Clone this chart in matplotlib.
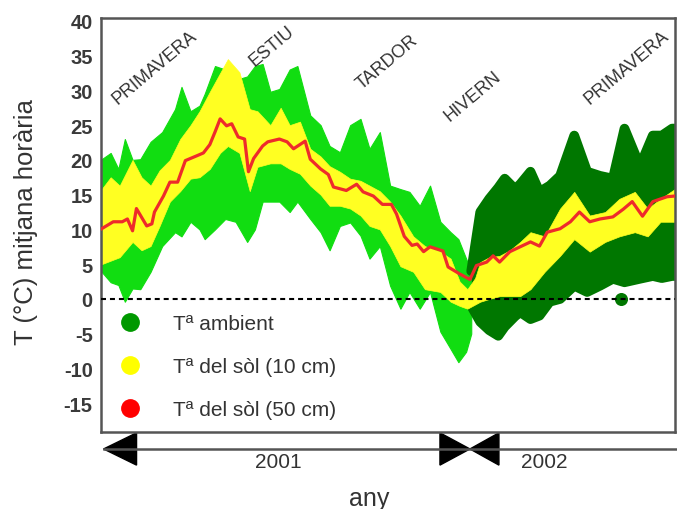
import matplotlib.pyplot as plt
from matplotlib.patches import Polygon
from matplotlib.lines import Line2D
from matplotlib.transforms import blended_transform_factory

plt.rcParams['font.family'] = ['Liberation Sans', 'DejaVu Sans']
plt.rcParams['axes.unicode_minus'] = False

# dies comptats des de l'1 de gener de 2001
# T ambient 2001 (envolupant min/max de les mitjanes horàries)
amb01_day = [79, 86, 92, 97, 103, 109, 117, 126, 136, 141, 148, 155, 159, 167, 175,
             183, 192, 198, 204, 210, 217, 225, 231, 241, 249, 256, 264, 272, 280,
             287, 295, 303, 311, 318, 326, 334, 342, 350, 356, 362, 366]
amb01_hi = [20.1, 21.0, 18.7, 23.0, 20.0, 20.1, 22.6, 24.0, 27.3, 30.5, 27.0, 27.8, 29.5,
            33.5, 33.0, 31.5, 32.0, 33.5, 33.8, 29.8, 30.2, 33.0, 33.5, 26.4, 25.0, 22.0,
            21.1, 25.0, 25.9, 21.6, 24.0, 16.3, 15.8, 15.4, 13.4, 16.3, 11.1, 9.6, 8.6,
            5.8, 4.0]
amb01_lo = [3.9, 2.4, 2.0, -0.4, 1.5, 1.4, 3.9, 7.6, 9.6, 9.0, 11.1, 10.0, 8.6, 10.0,
            11.5, 11.1, 8.2, 10.0, 14.0, 14.0, 14.0, 12.5, 14.0, 11.5, 9.6, 7.0, 10.5,
            11.0, 9.1, 5.8, 7.6, 1.9, -1.4, 1.0, -1.4, 1.0, -4.7, -7.2, -9.1, -7.6, -5.0]

# T ambient 2002
amb02_day = [366, 373, 380, 387, 392, 400, 404, 412, 419, 427, 435, 446, 456, 466,
             476, 485, 497, 507, 514, 522, 524]
amb02_hi = [4.0, 12.5, 14.4, 16.0, 17.3, 15.8, 16.5, 18.3, 15.4, 16.3, 17.7, 23.5,
            18.3, 17.7, 17.3, 24.5, 19.1, 23.5, 23.5, 24.5, 24.5]
amb02_lo = [-1.0, -3.3, -4.5, -5.3, -4.0, -2.5, -1.9, -2.9, -2.4, -0.4, 0.0, 1.9,
            1.0, 1.9, 2.9, 2.4, 2.9, 3.3, 3.0, 3.3, 3.3]
outlier_day = [482]
outlier_temp = [0.0]

# T del sòl a 10 cm
soil10_day = [79, 86, 93, 103, 110, 117, 124, 132, 140, 148, 155, 163, 171, 177, 186,
              194, 200, 210, 218, 225, 233, 241, 249, 256, 264, 272, 280, 287, 295,
              303, 311, 321, 330, 342, 350, 357, 363, 369, 373, 380, 388, 396, 404,
              412, 423, 435, 446, 458, 470, 481, 493, 503, 513, 524]
soil10_hi = [15.8, 17.5, 16.3, 20.0, 17.5, 16.3, 18.5, 20.0, 23.0, 25.0, 27.0, 29.8,
             32.5, 34.5, 32.6, 27.3, 27.0, 25.0, 27.5, 25.0, 25.5, 21.6, 20.5, 19.1,
             18.3, 17.3, 17.0, 16.3, 15.5, 14.0, 12.0, 9.0, 7.6, 6.8, 5.8, 2.5, 1.4,
             3.0, 5.3, 6.0, 6.2, 7.0, 8.2, 9.6, 9.0, 13.0, 15.4, 12.0, 12.5, 14.4,
             15.4, 13.0, 14.4, 15.8]
soil10_lo = [5.0, 5.5, 6.0, 8.2, 7.0, 7.6, 10.5, 14.0, 15.5, 17.3, 17.5, 18.7, 21.0,
             22.0, 21.0, 15.5, 19.0, 19.5, 19.5, 18.7, 18.0, 16.3, 15.0, 13.4, 13.4,
             13.0, 12.0, 10.5, 10.0, 7.6, 4.7, 3.9, 1.4, 1.0, -0.4, -1.0, -1.4, -0.8,
             -0.4, 0.0, 0.4, 0.4, 0.4, 1.4, 3.9, 6.2, 8.6, 6.8, 8.2, 9.0, 9.6, 9.0,
             11.1, 11.1]

# T del sòl a 50 cm
soil50_day = [79, 88, 95, 99, 103, 106, 114, 118, 120, 127, 132, 138, 144, 153, 158,
              163, 167, 171, 176, 180, 185, 190, 193, 197, 204, 208, 217, 223, 228,
              237, 241, 249, 255, 259, 269, 277, 282, 290, 297, 304, 308, 314, 320,
              324, 329, 334, 339, 344, 348, 357, 365, 370, 378, 383, 388, 396, 412,
              419, 425, 435, 443, 450, 458, 466, 476, 484, 491, 499, 507, 518, 524]
soil50 = [10.1, 11.1, 11.1, 11.5, 9.8, 13.0, 10.5, 10.8, 12.5, 14.8, 16.8, 16.8, 19.9,
          20.6, 21.0, 22.2, 24.0, 25.9, 24.9, 25.2, 23.3, 23.0, 18.3, 20.2, 22.0, 22.6,
          23.0, 22.6, 21.6, 22.7, 20.1, 18.7, 17.9, 16.1, 15.6, 16.5, 15.4, 14.8, 13.6,
          13.6, 12.2, 9.0, 7.7, 7.9, 6.8, 7.5, 7.2, 6.9, 4.6, 3.6, 2.8, 4.8, 5.3, 6.2,
          5.3, 6.8, 8.2, 7.6, 9.6, 10.1, 11.1, 12.5, 11.1, 11.5, 11.8, 12.9, 14.0,
          11.9, 14.0, 14.7, 14.8]

seasons = ['PRIMAVERA', 'ESTIU', 'TARDOR', 'HIVERN', 'PRIMAVERA']
season_day = [120, 211, 301, 367, 487]
season_temp = [33.4, 36.4, 34.2, 29.2, 33.4]

years = ['2001', '2002']
year_day = [216, 423]
new_year_day = 365

fig = plt.figure(figsize=(6.77, 5.10), dpi=100)
ax = fig.add_axes([0.1492, 0.151, 0.8478, 0.812])

# ambient: verd clar el 2001, verd fosc (punts grossos) el 2002
ax.fill_between(amb01_day, amb01_lo, amb01_hi, color='#11dd11', lw=0.8, zorder=1)
ax.fill_between(amb02_day, amb02_lo, amb02_hi, color='#007700', lw=0, zorder=1)
for edge in (amb02_hi, amb02_lo):
    ax.plot(amb02_day, edge, color='#007700', lw=7, solid_joinstyle='round',
            solid_capstyle='round', zorder=1)
ax.scatter(outlier_day, outlier_temp, s=70, color='#007700', zorder=1)

ax.fill_between(soil10_day, soil10_lo, soil10_hi, color='#ffff22', lw=0.5, zorder=2)
ax.plot(soil50_day, soil50, color='#ee2b2b', lw=2.3, zorder=3)

ax.axhline(0, color='black', lw=1.5, ls=(0, (2.4, 1.9)), zorder=4)

ax.set_xlim(78.5, 524.2)
ax.set_ylim(-19.14, 40.43)
ax.set_xticks([])
ax.set_yticks(range(-15, 45, 5))
ax.tick_params(axis='y', length=0, pad=6, labelsize=14.5, labelcolor='#3a3a3a')
for lab in ax.get_yticklabels():
    lab.set_fontweight('bold')
for s in ax.spines.values():
    s.set_color('#555555')
    s.set_linewidth(1.8)

ax.text(-0.131, 0.51, 'T (°C) mitjana horària', transform=ax.transAxes, rotation=90,
        ha='center', va='center', fontsize=18.5, color='#333333')

for name, d, t in zip(seasons, season_day, season_temp):
    ax.text(d, t, name, rotation=40, ha='center', va='center', fontsize=13,
            color='#333333', zorder=5)

handles = [
    Line2D([], [], ls='none', marker='o', ms=12.5, mfc='#009900', mec='#009900',
           label='Tª ambient'),
    Line2D([], [], ls='none', marker='o', ms=12.5, mfc='#ffff00', mec='#ffff00',
           label='Tª del sòl (10 cm)'),
    Line2D([], [], ls='none', marker='o', ms=12.5, mfc='#ff0000', mec='#ff0000',
           label='Tª del sòl (50 cm)'),
]
leg = ax.legend(handles=handles, loc='upper left', bbox_to_anchor=(0.018, 0.305),
                borderaxespad=0, frameon=False, fontsize=15, labelspacing=1.15,
                handlelength=1.0, handletextpad=1.57)
for t in leg.get_texts():
    t.set_color('#333333')

# eix del temps sota el gràfic
tr = blended_transform_factory(ax.transData, ax.transAxes)
y0 = -0.041
h = 0.039
x_start = ax.get_xlim()[0] + 2
ax.plot([x_start, 526], [y0, y0], color='#555555', lw=1.8, transform=tr, clip_on=False)
tris = [
    [(x_start, y0), (x_start + 25.6, y0 + h), (x_start + 25.6, y0 - h)],
    [(new_year_day, y0), (new_year_day - 23.3, y0 + h), (new_year_day - 23.3, y0 - h)],
    [(new_year_day, y0), (new_year_day + 22.5, y0 + h), (new_year_day + 22.5, y0 - h)],
]
for pts in tris:
    ax.add_patch(Polygon(pts, closed=True, color='black', transform=tr, clip_on=False))
for label, d in zip(years, year_day):
    ax.text(d, -0.072, label, transform=tr, ha='center', va='center', fontsize=15,
            color='#333333')
ax.text(0.467, -0.16, 'any', transform=ax.transAxes, ha='center', va='center',
        fontsize=18, color='#333333')

fig.savefig('out.png', dpi=100)
